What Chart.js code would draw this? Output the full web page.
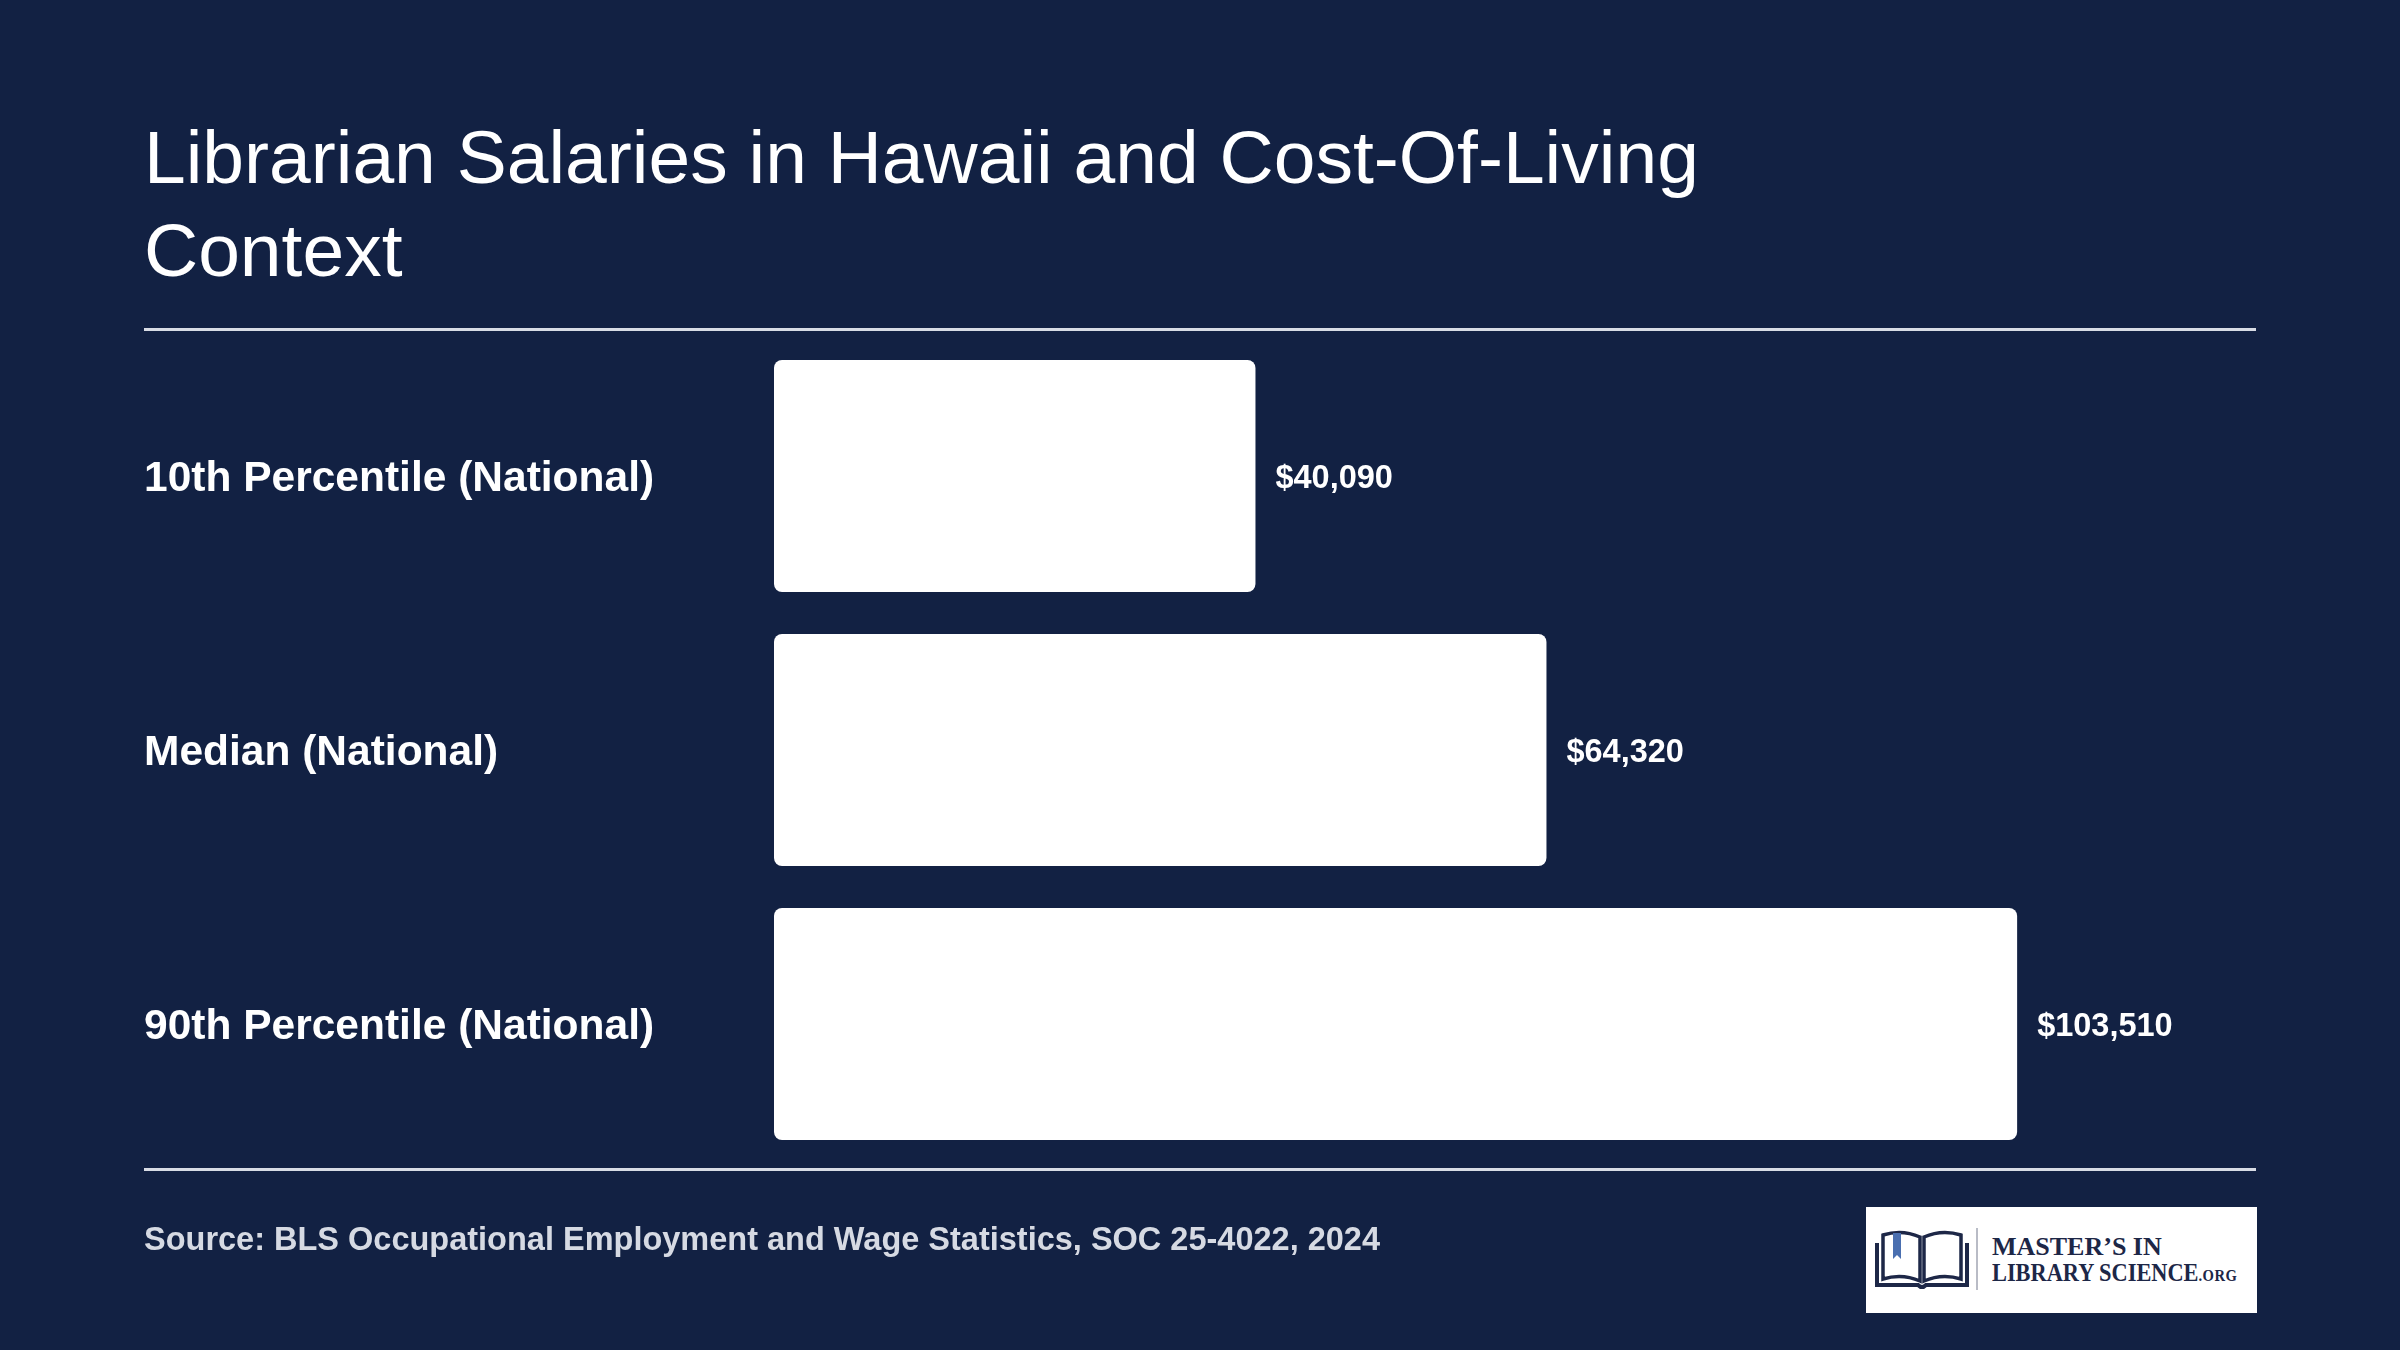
<!DOCTYPE html>
<html>
<head>
<meta charset="utf-8">
<script src="https://cdn.jsdelivr.net/npm/chart.js@4.4.1/dist/chart.umd.min.js"></script>
<style>
  html, body { margin: 0; padding: 0; background: #122143; }
  #wrap { position: relative; width: 2400px; height: 1350px; background: #122143; overflow: hidden; }
  #logo { position: absolute; left: 1866px; top: 1207px; width: 391px; height: 106px; background: #ffffff; }
  #logo svg { position: absolute; left: 8px; top: 22px; }
  #logo .div { position: absolute; left: 110px; top: 21px; width: 2px; height: 62px; background: #b9bcc6; }
  #logo .t1, #logo .t2 { position: absolute; left: 126px; font-family: "Liberation Serif", "DejaVu Serif", serif; color: #1d2747; font-size: 26px; letter-spacing: 0px; white-space: nowrap; line-height: 1; font-weight: 600; transform-origin: 0 0; }
  #logo .t1 { top: 27px; transform: scaleX(1.0); }
  #logo .t2 { top: 53px; transform: scaleX(0.86); }
  #logo .t2 small { font-size: 17px; letter-spacing: 0.5px; }
</style>
</head>
<body>
<div id="wrap">
  <canvas id="c" width="2400" height="1350"></canvas>
  <div id="logo">
    <svg width="96" height="62" viewBox="0 0 96 62">
      <path d="M3 14 L3 56 L44 56 Q48 60 52 56 L93 56 L93 14" fill="none" stroke="#1d2747" stroke-width="4"/>
      <path d="M9 6 Q28 0 46 8 L46 52 Q28 44 9 50 Z" fill="#ffffff" stroke="#1d2747" stroke-width="3.5"/>
      <path d="M87 6 Q68 0 50 8 L50 52 Q68 44 87 50 Z" fill="#ffffff" stroke="#1d2747" stroke-width="3.5"/>
      <path d="M19 4 L27 4 L27 30 L23 26 L19 30 Z" fill="#4a6fb0"/>
    </svg>
    <div class="div"></div>
    <div class="t1">MASTER’S IN</div>
    <div class="t2">LIBRARY SCIENCE<small>.ORG</small></div>
  </div>
</div>
<script>
// ---- Data ----
const titleLines = ['Librarian Salaries in Hawaii and Cost-Of-Living', 'Context'];
const categories = ['10th Percentile (National)', 'Median (National)', '90th Percentile (National)'];
const salaries = [40090, 64320, 103510];
const axisMin = 0;
const axisMax = 123400;
const sourceText = 'Source: BLS Occupational Employment and Wage Statistics, SOC 25-4022, 2024';

// ---- Styles ----
const FONT = '"Liberation Sans", Arial, Helvetica, sans-serif';
const BG = '#122143';
const RULE = '#d8dce5';

const fmt = v => '$' + v.toLocaleString('en-US');

const decorPlugin = {
  id: 'decor',
  beforeDraw(chart) {
    const ctx = chart.ctx;
    ctx.save();
    ctx.fillStyle = BG;
    ctx.fillRect(0, 0, chart.width, chart.height);
    ctx.restore();
  },
  afterDraw(chart) {
    const ctx = chart.ctx;
    const a = chart.chartArea;
    ctx.save();
    ctx.strokeStyle = RULE;
    ctx.lineWidth = 3;
    ctx.beginPath();
    ctx.moveTo(144, a.top - 9.5);
    ctx.lineTo(a.right, a.top - 9.5);
    ctx.moveTo(144, a.bottom + 8.5);
    ctx.lineTo(a.right, a.bottom + 8.5);
    ctx.stroke();
    ctx.restore();
  },
  afterDatasetsDraw(chart) {
    const ctx = chart.ctx;
    const meta = chart.getDatasetMeta(0);
    ctx.save();
    ctx.fillStyle = '#ffffff';
    ctx.font = 'bold 32.5px ' + FONT;
    ctx.textAlign = 'left';
    ctx.textBaseline = 'middle';
    meta.data.forEach((bar, i) => {
      ctx.fillText(fmt(chart.data.datasets[0].data[i]), bar.x + 20, bar.y + 3);
    });
    ctx.restore();
  }
};

new Chart(document.getElementById('c'), {
  type: 'bar',
  data: {
    labels: categories,
    datasets: [{
      data: salaries,
      backgroundColor: '#ffffff',
      borderWidth: 0,
      borderRadius: 8,
      borderSkipped: false,
      barPercentage: 0.847,
      categoryPercentage: 1.0
    }]
  },
  options: {
    indexAxis: 'y',
    responsive: false,
    animation: false,
    devicePixelRatio: 1,
    layout: { padding: { left: 144, right: 144, top: 0, bottom: 0 } },
    plugins: {
      legend: { display: false },
      tooltip: { enabled: false },
      title: {
        display: true,
        text: titleLines,
        align: 'start',
        color: '#ffffff',
        font: { family: FONT, size: 75, weight: 'normal', lineHeight: 1.24 },
        padding: { top: 116, bottom: 37 }
      },
      subtitle: {
        display: true,
        position: 'bottom',
        text: sourceText,
        align: 'start',
        color: '#d6dae3',
        font: { family: FONT, size: 32.5, weight: 'bold', lineHeight: 1.2 },
        padding: { top: 61, bottom: 89 }
      }
    },
    scales: {
      x: {
        display: false,
        min: axisMin,
        max: axisMax
      },
      y: {
        grid: { display: false },
        border: { display: false },
        afterFit(axis) { axis.width = 630; },
        ticks: {
          crossAlign: 'far',
          padding: 0,
          labelOffset: 3,
          color: '#ffffff',
          font: { family: FONT, size: 42.5, weight: 'bold' }
        }
      }
    }
  },
  plugins: [decorPlugin]
});
</script>
</body>
</html>
